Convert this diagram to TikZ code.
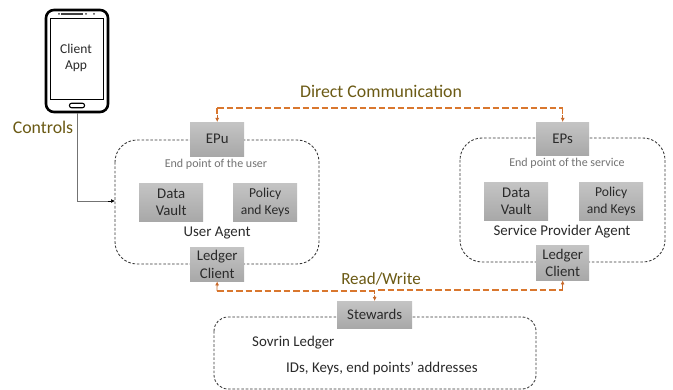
\documentclass[tikz,border=0pt]{standalone}
\usepackage{fontspec}
\setmainfont{Carlito}
\usetikzlibrary{arrows.meta,calc}
\definecolor{olivetxt}{HTML}{6B5A14}
\definecolor{orangeln}{HTML}{D9772E}
\definecolor{tipcol}{HTML}{C8692A}
\definecolor{txt}{HTML}{2A2A2A}
\definecolor{boxtop}{HTML}{C4C4C4}
\definecolor{boxbot}{HTML}{A8A8A8}
\tikzset{
  box/.style={draw=none,top color=boxtop,bottom color=boxbot,text=txt,inner sep=0pt,align=center,font=\fontsize{14.8}{17.5}\selectfont},
  small/.style={font=\fontsize{13.6}{16.5}\selectfont},
  region/.style={draw=black!78,dash pattern=on 2.6pt off 1.8pt,line width=0.85pt,rounded corners=22pt},
  link/.style={draw=orangeln,dash pattern=on 6.5pt off 3pt,line width=1.1pt},
  tip/.style={draw=tipcol,line width=0.8pt,-{Latex[length=4pt,width=4pt]}},
  lbl/.style={text=txt,inner sep=0pt,align=center,font=\fontsize{14.9}{17}\selectfont},
  sublbl/.style={text=black!55,inner sep=0pt,font=\fontsize{12}{14}\selectfont},
  big/.style={text=olivetxt,inner sep=0pt,font=\fontsize{17.8}{20}\selectfont}
}
\newcommand{\bx}[7][]{\node[box,#1,minimum width=#5pt,minimum height=#6pt,anchor=north west] (#2) at (#3,#4) {#7};}
\begin{document}
\begin{tikzpicture}[x=1pt,y=-1pt]
\useasboundingbox (0,0) rectangle (673,390);
\fill[white] (0,0) rectangle (673,390);
% regions
\draw[region] (115,140) rectangle (319,264);
\draw[region] (460,138) rectangle (665,262);
\draw[region,rounded corners=14pt] (214,317) rectangle (536,389);
% phone
\node[draw=black,line width=2.6pt,rounded corners=8pt,minimum width=62pt,minimum height=102pt,fill=white,inner sep=0pt] (phone) at (77,61) {};
\node[draw=black,line width=0.9pt,minimum width=53pt,minimum height=81pt,inner sep=0pt] (screen) at (77,59) {};
\node[align=center,inner sep=0pt,font=\fontsize{13.5}{16.5}\selectfont,text=txt] (apptext) at (76,58) {Client\\App};
\node[draw=black,line width=1.1pt,rounded corners=2pt,minimum width=15pt,minimum height=4.5pt,inner sep=0pt] (home) at (77,105.5) {};
\fill[black!75] (61,13.2) rectangle (83,14.8);
\fill[black!75] (59,14) circle (1pt) (86,14) circle (1pt) (94,14) circle (1pt);
% boxes
\bx{epu}{190}{122}{54}{34}{EPu}
\bx{dv1}{139}{183}{64}{38}{Data\\Vault}
\bx[small]{pk1}{233}{183}{64}{38}{Policy\\and Keys}
\bx{lc1}{190}{247}{54}{34}{Ledger\\Client}
\bx{eps}{536}{122}{53}{33}{EPs}
\bx{dv2}{484}{182}{64}{38}{Data\\Vault}
\bx[small]{pk2}{579}{182}{64}{38}{Policy\\and Keys}
\bx{lc2}{536}{245}{53}{35}{Ledger\\Client}
\bx{st}{337}{301}{75}{27}{Stewards}
% labels
\node[sublbl] (e1) at (216,164) {End point of the user};
\node[sublbl] (e2) at (567,163) {End point of the service};
\node[lbl] (ua) at (217,233) {User Agent};
\node[lbl] (sa) at (562,232) {Service Provider Agent};
\node[lbl,anchor=west] (sl) at (252,343) {Sovrin Ledger};
\node[lbl,anchor=west] (ids) at (286,368) {IDs, Keys, end points’ addresses};
\node[big] (dc) at (381,91) {Direct Communication};
\node[big,font=\fontsize{17}{20}\selectfont] (rw) at (381,279) {Read/Write};
\node[big] (ct) at (43,127) {Controls};
% connectors
\coordinate (uaedge) at (115,201);
\coordinate (bend) at (77,201);
\draw[black!55,line width=0.8pt] (phone.south) -- (bend) -- (108,201);
\draw[black,line width=0.7pt,-{Latex[length=4pt,width=4pt]}] (108,201) -- (uaedge);
\coordinate (dl) at (217,108);
\coordinate (dr) at (562.5,108);
\draw[link] (dl) -- (dr);
\draw[link] (dl) -- ++(0,6);
\draw[link] (dr) -- ++(0,6);
\draw[tip] ($(epu.north)+(0,-7)$) -- (epu.north);
\draw[tip] ($(eps.north)+(0,-7)$) -- (eps.north);
\coordinate (rl) at (217,291);
\coordinate (rm) at (374.5,291);
\coordinate (rm2) at (378,290);
\coordinate (rr) at (562.5,290);
\draw[link] (rl) -- (rm);
\draw[link] (rm2) -- (rr);
\draw[tip] (rl) -- (lc1.south);
\draw[tip] (rr) -- (lc2.south);
\draw[tip,dash pattern=on 3pt off 1.5pt] (rm) -- (st.north);
\end{tikzpicture}
\end{document}
